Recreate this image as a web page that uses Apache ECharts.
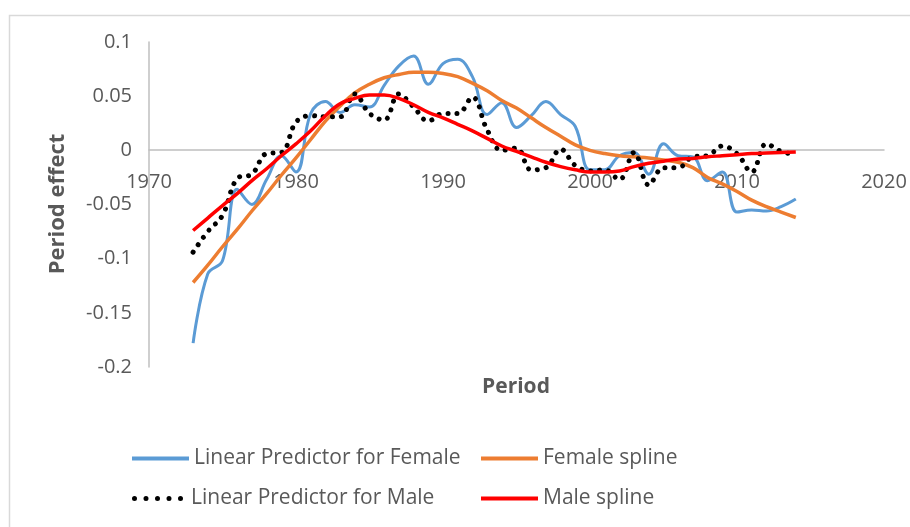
<!DOCTYPE html>
<html><head><meta charset="utf-8">
<script src="https://cdn.jsdelivr.net/npm/echarts@6/dist/echarts.min.js"></script>
<style>html,body{margin:0;padding:0;background:#fff}#c{width:910px;height:527px}</style>
</head><body><div id="c"></div>
<script>
const years = [1973,1974,1975,1976,1977,1978,1979,1980,1981,1982,1983,1984,1985,1986,1987,1988,1989,1990,1991,1992,1993,1994,1995,1996,1997,1998,1999,2000,2001,2002,2003,2004,2005,2006,2007,2008,2009,2010,2011,2012,2013,2014];
const femaleLP = [-0.178,-0.114,-0.102,-0.036,-0.050,-0.027,-0.005,-0.020,0.034,0.045,0.035,0.042,0.040,0.060,0.078,0.087,0.061,0.080,0.084,0.068,0.033,0.044,0.021,0.032,0.045,0.033,0.022,-0.018,-0.018,-0.005,-0.002,-0.022,0.006,-0.005,-0.006,-0.028,-0.020,-0.057,-0.055,-0.056,-0.052,-0.045];
const femaleSpline = [-0.122,-0.106,-0.089,-0.073,-0.056,-0.040,-0.023,-0.007,0.010,0.027,0.041,0.053,0.061,0.067,0.070,0.072,0.072,0.071,0.068,0.062,0.055,0.046,0.039,0.030,0.021,0.013,0.005,0.000,-0.003,-0.005,-0.006,-0.007,-0.009,-0.011,-0.016,-0.025,-0.031,-0.038,-0.046,-0.052,-0.057,-0.062];
const maleLP = [-0.094,-0.075,-0.060,-0.026,-0.022,-0.003,-0.002,0.026,0.032,0.031,0.031,0.052,0.034,0.028,0.052,0.040,0.027,0.034,0.034,0.049,0.019,0.000,0.002,-0.018,-0.016,0.001,-0.014,-0.019,-0.018,-0.027,-0.002,-0.032,-0.016,-0.016,-0.006,-0.005,0.004,-0.003,-0.020,0.006,-0.001,-0.004];
const maleSpline = [-0.074,-0.0625,-0.051,-0.040,-0.028,-0.017,-0.005,0.006,0.018,0.032,0.043,0.048,0.051,0.051,0.048,0.042,0.035,0.030,0.024,0.018,0.011,0.004,-0.001,-0.006,-0.011,-0.015,-0.018,-0.020,-0.020,-0.019,-0.015,-0.012,-0.010,-0.008,-0.0075,-0.006,-0.005,-0.004,-0.003,-0.0025,-0.002,-0.0015];
const xTicks = [1970,1980,1990,2000,2010,2020];
const yTicks = [-0.2,-0.15,-0.1,-0.05,0,0.05,0.1];
const seriesNames = ['Linear Predictor for Female','Female spline','Linear Predictor for Male','Male spline'];
const xTitle = 'Period';
const yTitle = 'Period effect';

const pairs = vals => years.map((y,i)=>[y, vals[i]]);
const FONT = 'Open Sans';
const TXT = '#595959';
const dotsIcon = 'path://M0,2.5a2.5,2.5 0 1,0 5,0a2.5,2.5 0 1,0 -5,0M11.5,2.5a2.5,2.5 0 1,0 5,0a2.5,2.5 0 1,0 -5,0M23,2.5a2.5,2.5 0 1,0 5,0a2.5,2.5 0 1,0 -5,0M34.5,2.5a2.5,2.5 0 1,0 5,0a2.5,2.5 0 1,0 -5,0M46,2.5a2.5,2.5 0 1,0 5,0a2.5,2.5 0 1,0 -5,0';

function legendAt(name, left, top, icon, w, h){
  return {show:true, data:[name], left:left, top:top, orient:'horizontal', icon:icon,
    itemWidth:w, itemHeight:h, selectedMode:false, padding:0,
    textStyle:{fontFamily:FONT, fontSize:21, color:TXT}};
}

const chart = echarts.init(document.getElementById('c'), null, {renderer:'canvas'});
chart.setOption({
  animation:false,
  backgroundColor:'#ffffff',
  grid:{left:149, right:26, top:42, bottom:160, containLabel:false},
  xAxis:{type:'value', min:xTicks[0], max:xTicks[xTicks.length-1], interval:xTicks[1]-xTicks[0],
    offset:-217,
    axisLine:{show:true, onZero:false, lineStyle:{color:'#bfbfbf', width:1.5}},
    axisTick:{show:false}, splitLine:{show:false},
    axisLabel:{fontFamily:FONT, fontSize:20, color:TXT, margin:22, formatter:v=>String(v)}},
  yAxis:{type:'value', min:yTicks[0], max:yTicks[yTicks.length-1], interval:0.05,
    axisLine:{show:true, lineStyle:{color:'#bfbfbf', width:1.5}},
    axisTick:{show:false}, splitLine:{show:false},
    axisLabel:{fontFamily:FONT, fontSize:20, color:TXT, margin:17,
      formatter:v=>String(parseFloat(v.toFixed(2)))}},
  legend:[
    legendAt(seriesNames[0], 132, 448, 'rect', 57, 4),
    legendAt(seriesNames[1], 481, 448, 'rect', 57, 4),
    legendAt(seriesNames[2], 132, 488, dotsIcon, 57, 5),
    legendAt(seriesNames[3], 481, 488, 'rect', 57, 4)
  ],
  graphic:[
    {type:'rect', left:7, top:13, silent:true, shape:{width:1000, height:1000},
      style:{fill:'none', stroke:'#d9d9d9', lineWidth:1.5}},
    {type:'text', x:516, y:387, silent:true,
      style:{text:xTitle, fontFamily:FONT, fontWeight:'bold', fontSize:21, fill:TXT, align:'center', verticalAlign:'middle'}},
    {type:'text', x:58, y:204, rotation:Math.PI/2, silent:true,
      style:{text:yTitle, fontFamily:FONT, fontWeight:'bold', fontSize:22, fill:TXT, align:'center', verticalAlign:'middle'}}
  ],
  series:[
    {name:seriesNames[0], type:'line', data:pairs(femaleLP), smooth:0.4, symbol:'none',
      color:'#5b9bd5', lineStyle:{color:'#5b9bd5', width:3}},
    {name:seriesNames[1], type:'line', data:pairs(femaleSpline), smooth:0.4, symbol:'none',
      color:'#ed7d31', lineStyle:{color:'#ed7d31', width:3.5}},
    {name:seriesNames[2], type:'line', data:pairs(maleLP), smooth:0.4, symbol:'none',
      color:'#000000', lineStyle:{color:'#000000', width:5, type:[0.01,9], cap:'round'}},
    {name:seriesNames[3], type:'line', data:pairs(maleSpline), smooth:0.4, symbol:'none',
      color:'#ff0000', lineStyle:{color:'#ff0000', width:3.5}}
  ]
});
</script></body></html>
